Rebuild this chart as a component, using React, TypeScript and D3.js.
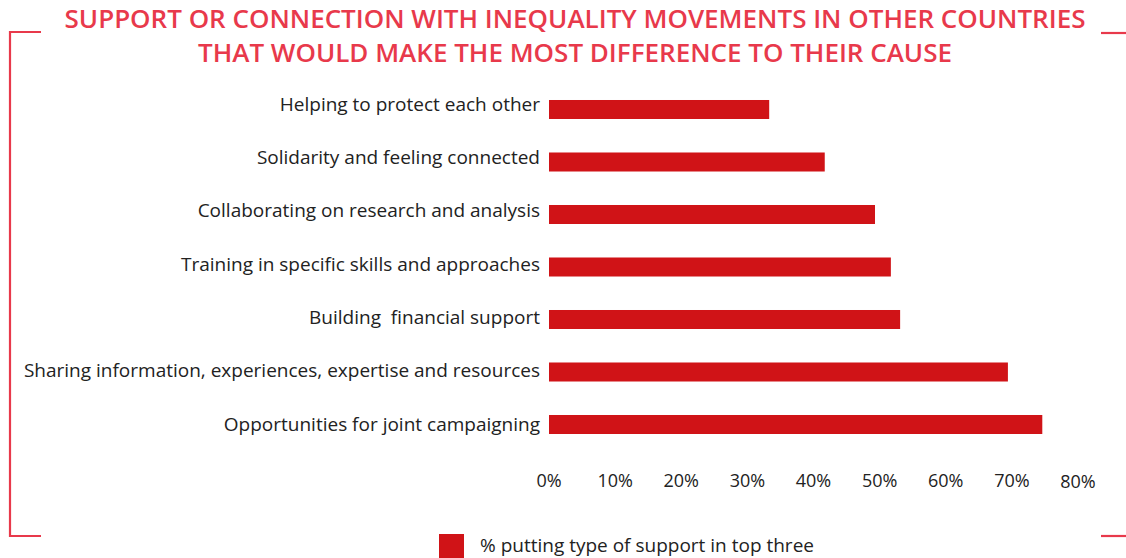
import React from "react";
import * as d3 from "d3";

const categories = [
  "Helping to protect each other",
  "Solidarity and feeling connected",
  "Collaborating on research and analysis",
  "Training in specific skills and approaches",
  "Building  financial support",
  "Sharing information, experiences, expertise and resources",
  "Opportunities for joint campaigning",
];
const values = [33.3, 41.7, 49.3, 51.7, 53.1, 69.4, 74.6];
const ticks = [0, 10, 20, 30, 40, 50, 60, 70, 80];
const titleLines = [
  "SUPPORT OR CONNECTION WITH INEQUALITY MOVEMENTS IN OTHER COUNTRIES",
  "THAT WOULD MAKE THE MOST DIFFERENCE TO THEIR CAUSE",
];
const legendLabel = "% putting type of support in top three";

const W = 1126;
const H = 558;
const FONT = "'Open Sans', sans-serif";
const RED = "#d01317";
const TITLE = "#e8394b";

export default function App() {
  const x = d3.scaleLinear().domain([0, 80]).range([549, 1078]);
  const y = d3
    .scaleBand<string>()
    .domain(categories)
    .range([83.25, 450.75])
    .paddingInner(0.638)
    .paddingOuter(0.319);
  const yLabel = d3.scalePoint<string>().domain(categories).range([110.7, 430.6]);
  return (
    <svg
      width={W}
      height={H}
      style={{ position: "absolute", left: 0, top: 0, background: "#fff" }}
      fontFamily={FONT}
    >
      {/* bracket */}
      <path d="M41,32 H10 V536 H41" fill="none" stroke={TITLE} strokeWidth={2.2} />
      <path d="M1101,33 H1126" stroke={TITLE} strokeWidth={2.2} />
      <path d="M1101,536 H1126" stroke={TITLE} strokeWidth={2.2} />
      {titleLines.map((t, i) => (
        <text
          key={i}
          x={575}
          y={28 + i * 34}
          textAnchor="middle"
          fill={TITLE}
          fontSize={26}
          fontWeight={600}
        >
          {t}
        </text>
      ))}
      {categories.map((c, i) => {
        const yy = y(c)!;
        const bh = y.bandwidth();
        return (
          <g key={c}>
            <rect x={x(0)} y={yy} width={x(values[i]) - x(0)} height={bh} fill={RED} />
            <text
              x={540}
              y={yLabel(c)}
              textAnchor="end"
              fontSize={19}
              fill="#222"
              style={{ whiteSpace: "pre" }}
            >
              {c}
            </text>
          </g>
        );
      })}
      {ticks.map((t) => (
        <text
          key={t}
          x={x(t)}
          y={t === 80 ? 488 : 487}
          textAnchor="middle"
          fontSize={18}
          fill="#222"
        >
          {t}%
        </text>
      ))}
      <rect x={439} y={534} width={25} height={25} fill={RED} />
      <text x={480} y={552} fontSize={19} fill="#222">
        {legendLabel}
      </text>
    </svg>
  );
}
